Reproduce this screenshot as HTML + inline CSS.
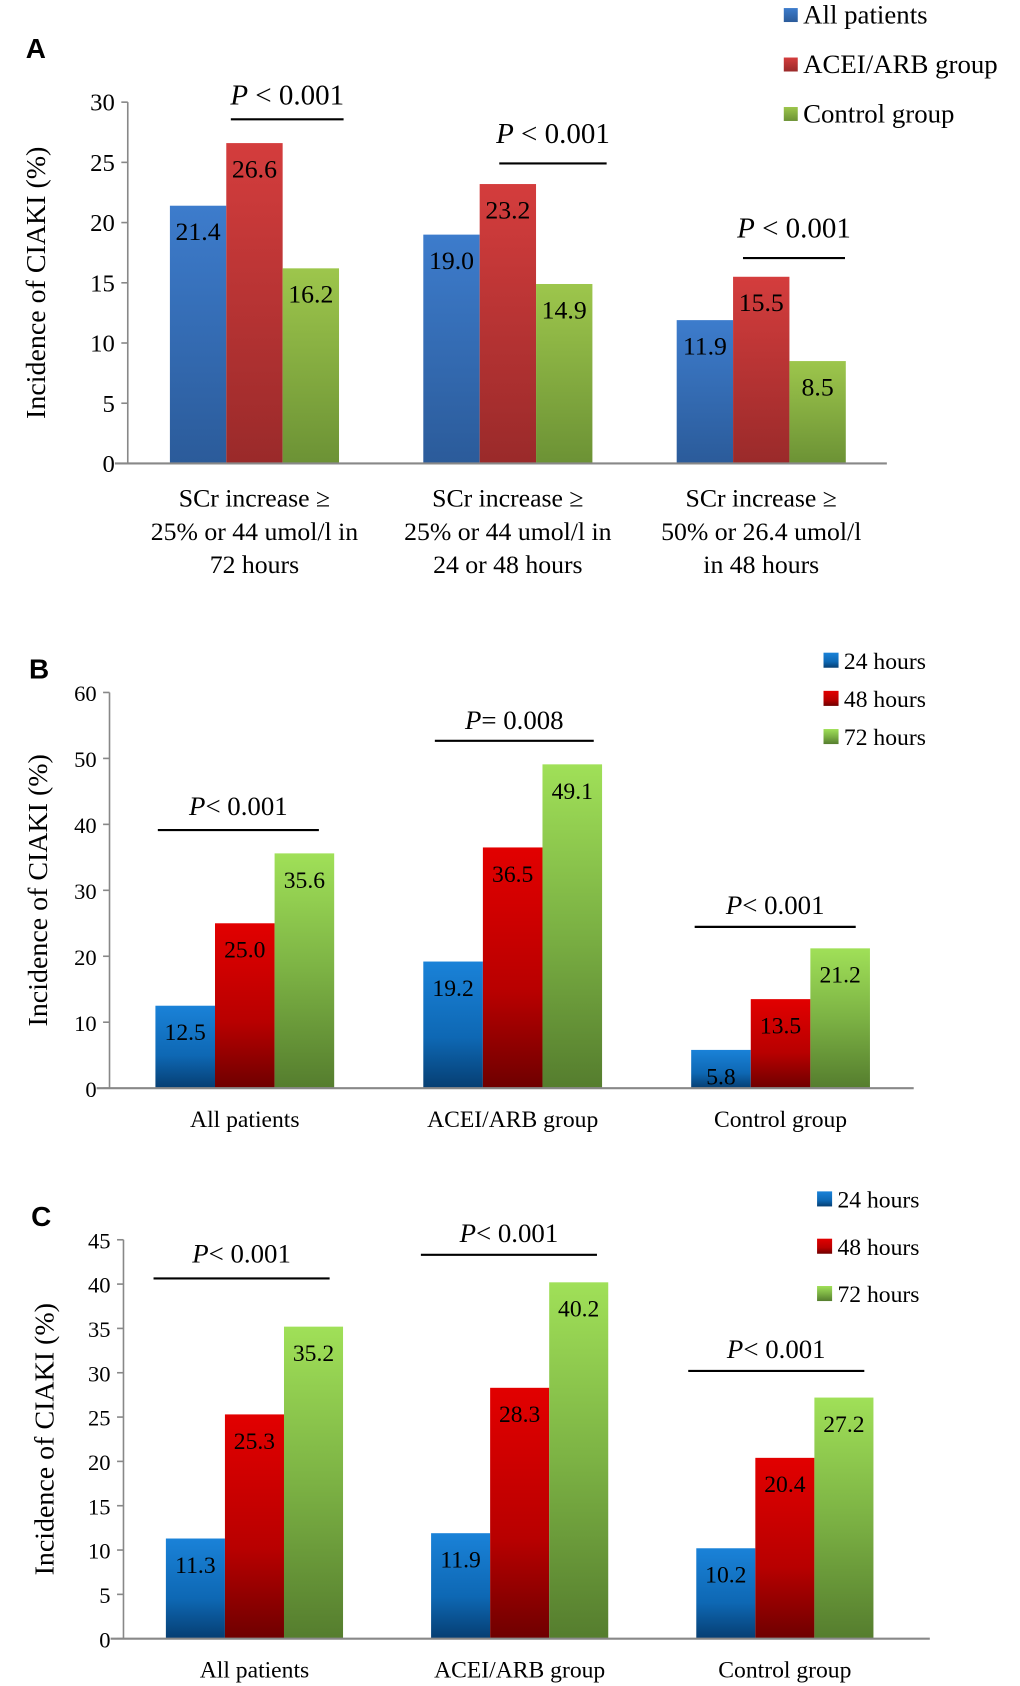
<!DOCTYPE html>
<html><head><meta charset="utf-8"><style>
html,body{margin:0;padding:0;background:#fff}
svg{display:block}
text{font-family:"Liberation Serif",serif;fill:#000}
</style></head><body>
<svg id="fig" width="1020" height="1686" viewBox="0 0 950 1568" preserveAspectRatio="none" xmlns="http://www.w3.org/2000/svg">
<defs>
<linearGradient id="gAb" x1="0" y1="0" x2="0" y2="1"><stop offset="0" stop-color="#3d7ccc"/><stop offset="1" stop-color="#2b5b9a"/></linearGradient>
<linearGradient id="gAr" x1="0" y1="0" x2="0" y2="1"><stop offset="0" stop-color="#d43d3d"/><stop offset="1" stop-color="#9a2a2a"/></linearGradient>
<linearGradient id="gAg" x1="0" y1="0" x2="0" y2="1"><stop offset="0" stop-color="#9dc64c"/><stop offset="1" stop-color="#6c9235"/></linearGradient>
<linearGradient id="gb" x1="0" y1="0" x2="0" y2="1"><stop offset="0" stop-color="#1a82d8"/><stop offset="0.6" stop-color="#0e68b4"/><stop offset="1" stop-color="#063e72"/></linearGradient>
<linearGradient id="gr" x1="0" y1="0" x2="0" y2="1"><stop offset="0" stop-color="#e20000"/><stop offset="0.6" stop-color="#b80000"/><stop offset="1" stop-color="#6e0000"/></linearGradient>
<linearGradient id="gg" x1="0" y1="0" x2="0" y2="1"><stop offset="0" stop-color="#a0e058"/><stop offset="0.5" stop-color="#7cb244"/><stop offset="1" stop-color="#557d2e"/></linearGradient>
</defs>
</svg>
<script>
// Panel A data
const catsA = [["SCr increase ≥","25% or 44 umol/l in","72 hours"],["SCr increase ≥","25% or 44 umol/l in","24 or 48 hours"],["SCr increase ≥","50% or 26.4 umol/l","in 48 hours"]];
const allPatientsA = [21.4, 19.0, 11.9];
const aceiA = [26.6, 23.2, 15.5];
const controlA = [16.2, 14.9, 8.5];
const ticksA = [0,5,10,15,20,25,30];
const pTextA = ["P < 0.001","P < 0.001","P < 0.001"];
const legendA = ["All patients","ACEI/ARB group","Control group"];
// Panel B data
const catsB = ["All patients","ACEI/ARB group","Control group"];
const h24B = [12.5, 19.2, 5.8];
const h48B = [25.0, 36.5, 13.5];
const h72B = [35.6, 49.1, 21.2];
const ticksB = [0,10,20,30,40,50,60];
const pTextB = ["P< 0.001","P= 0.008","P< 0.001"];
// Panel C data
const catsC = ["All patients","ACEI/ARB group","Control group"];
const h24C = [11.3, 11.9, 10.2];
const h48C = [25.3, 28.3, 20.4];
const h72C = [35.2, 40.2, 27.2];
const ticksC = [0,5,10,15,20,25,30,35,40,45];
const pTextC = ["P< 0.001","P< 0.001","P< 0.001"];
const legendT = ["24 hours","48 hours","72 hours"];

const NS="http://www.w3.org/2000/svg";
const svg=document.getElementById('fig');
function mk(tag,attrs,parent,txt){const e=document.createElementNS(NS,tag);for(const k in attrs)e.setAttribute(k,attrs[k]);if(txt!==undefined)e.textContent=txt;(parent||svg).appendChild(e);return e;}

function panel(cfg){
  const g=mk('g',{});
  
  
  const yScale=v=>cfg.y0-(v/cfg.max)*(cfg.y0-cfg.yTop);
  const groupCenter=i=>cfg.c0+i*cfg.step;
  const lab=mk('text',{x:cfg.letter[0],y:cfg.letter[1],'font-size':26,'font-weight':'bold',style:'font-family:"Liberation Sans",sans-serif'},g,cfg.id);
  
  
  const ya=mk('line',{x1:cfg.x0,y1:cfg.yTop,x2:cfg.x0,y2:cfg.y0,stroke:'#888','stroke-width':1.5},g);
  
  
  cfg.ticks.forEach(t=>{
    const y=yScale(t);
    mk('line',{x1:cfg.x0-6,y1:y,x2:cfg.x0,y2:y,stroke:'#888','stroke-width':1.5},g);
    const tl=mk('text',{x:cfg.x0-12,y:y+8,'text-anchor':'end','font-size':cfg.tickFs},g,String(t));
    
    
  });
  const yt=mk('text',{x:0,y:0,'text-anchor':'middle','font-size':cfg.titleFs,transform:`translate(${cfg.titleX},${(cfg.yTop+cfg.y0)/2}) rotate(-90)`},g,'Incidence of CIAKI (%)');
  
  
  cfg.series.forEach((s,si)=>{
    s.vals.forEach((v,i)=>{
      const x=groupCenter(i)+(si-1.5)*cfg.bw;
      const y=yScale(v);
      const r=mk('rect',{x:x,y:y,width:cfg.bw,height:cfg.y0-y,fill:s.fill},g);
      
      
      const t=mk('text',{x:x+cfg.bw/2,y:y+cfg.valOff,'text-anchor':'middle','font-size':cfg.valFs},g,v.toFixed(1));
      
      
    });
  });
  const xa=mk('line',{x1:cfg.x0-12,y1:cfg.y0,x2:cfg.xEnd,y2:cfg.y0,stroke:'#888','stroke-width':2},g);
  
  
  cfg.cats.forEach((c,i)=>{
    const lines=Array.isArray(c)?c:[c];
    lines.forEach((ln,j)=>{
      const t=mk('text',{x:groupCenter(i),y:cfg.catY+j*31,'text-anchor':'middle','font-size':cfg.catFs},g,ln);
      
      
    });
  });
  cfg.pvals.forEach((p,i)=>{
    const pv=cfg.pPos[i];
    const l=mk('line',{x1:pv[0],y1:pv[2],x2:pv[1],y2:pv[2],stroke:'#000','stroke-width':2},g);
    
    
    const t=mk('text',{x:(pv[0]+pv[1])/2,y:pv[3],'text-anchor':'middle','font-size':cfg.pFs},g);
    
    
    mk('tspan',{'font-style':'italic'},t,'P');
    mk('tspan',{},t,p.slice(1));
  });
  cfg.legend.forEach((L,i)=>{
    const y=cfg.legY+i*cfg.legStep;
    const sq=mk('rect',{x:cfg.legX,y:y-cfg.legSq/2,width:cfg.legSq,height:cfg.legSq,fill:cfg.series[i].fill},g);
    
    
    const t=mk('text',{x:cfg.legX+cfg.legSq+5,y:y+8,'font-size':cfg.legFs},g,L);
    
    
  });
}
panel({id:'A',letter:[24,54],x0:119,xEnd:826,y0:431,yTop:95,max:30,ticks:ticksA,tickFs:23,titleX:42,titleFs:26,
  c0:237,step:236,bw:52.5,valOff:32,valFs:24,cats:catsA,catY:471,catFs:24,
  series:[{name:'all-patients',vals:allPatientsA,fill:'url(#gAb)'},{name:'acei-arb',vals:aceiA,fill:'url(#gAr)'},{name:'control',vals:controlA,fill:'url(#gAg)'}],
  pvals:pTextA,pPos:[[215,320,111,97],[465,565,152,133],[692,787,240,221]],pFs:27,
  legend:legendA,legX:730,legY:14,legStep:46,legSq:13,legFs:25});
panel({id:'B',letter:[27,631],x0:102,xEnd:851,y0:1012,yTop:644,max:60,ticks:ticksB,tickFs:21,titleX:44,titleFs:26,
  c0:228,step:249.5,bw:55.5,valOff:32,valFs:22,cats:catsB,catY:1048,catFs:22,
  series:[{name:'24h',vals:h24B,fill:'url(#gb)'},{name:'48h',vals:h48B,fill:'url(#gr)'},{name:'72h',vals:h72B,fill:'url(#gg)'}],
  pvals:pTextB,pPos:[[147,297,772,758],[405,553,689,678],[647,797,862,850]],pFs:25,
  legend:legendT,legX:767,legY:614,legStep:35.5,legSq:14,legFs:22});
panel({id:'C',letter:[29,1140],x0:115,xEnd:866,y0:1524,yTop:1153,max:45,ticks:ticksC,tickFs:21,titleX:50,titleFs:26,
  c0:237,step:247,bw:55,valOff:32,valFs:22,cats:catsC,catY:1560,catFs:22,
  series:[{name:'24h',vals:h24C,fill:'url(#gb)'},{name:'48h',vals:h48C,fill:'url(#gr)'},{name:'72h',vals:h72C,fill:'url(#gg)'}],
  pvals:pTextC,pPos:[[143,307,1189,1174],[392,556,1167,1155],[641,805,1275,1263]],pFs:25,
  legend:legendT,legX:761,legY:1115,legStep:44,legSq:14,legFs:22});
</script>
</body></html>
